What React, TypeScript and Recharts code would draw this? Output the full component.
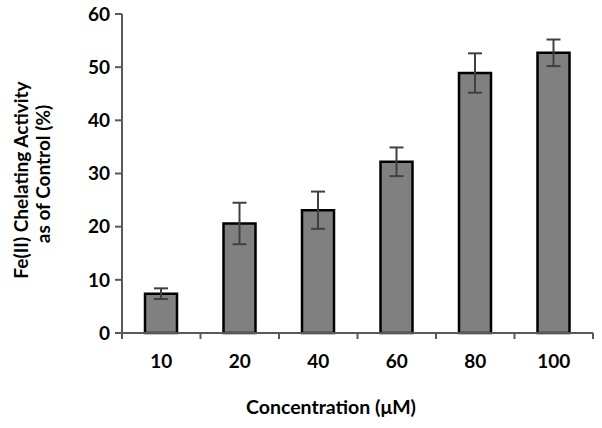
import { BarChart, Bar, XAxis, YAxis, ErrorBar } from 'recharts';

const concentrations = ['10', '20', '40', '60', '80', '100'];
const activity = [7.4, 20.6, 23.1, 32.2, 48.9, 52.7];
const errors = [1.0, 3.9, 3.5, 2.7, 3.7, 2.5];
const yTicks = [0, 10, 20, 30, 40, 50, 60];

const data = concentrations.map((c, i) => ({ conc: c, value: activity[i], err: errors[i] }));

const WIDTH = 602;
const HEIGHT = 428;
const MARGIN = { top: 14, right: 9, bottom: 35, left: 62 };
const Y_AXIS_W = 60;
const AXIS_COLOR = '#595959';
const FONT = 'Lato, "Open Sans", sans-serif';

const halfBand = (WIDTH - MARGIN.left - MARGIN.right - Y_AXIS_W) / concentrations.length / 2;

function XTick(props: any) {
  const { x, y, payload, index } = props;
  const last = index === concentrations.length - 1;
  return (
    <g>
      <line x1={x - halfBand} x2={x - halfBand} y1={y} y2={y + 6} stroke={AXIS_COLOR} strokeWidth={2} />
      {last && <line x1={x + halfBand} x2={x + halfBand} y1={y} y2={y + 6} stroke={AXIS_COLOR} strokeWidth={2} />}
      <text x={x} y={y + 35} textAnchor="middle" fontFamily={FONT} fontWeight="bold" fontSize={19} fill="#000">
        {payload.value}
      </text>
    </g>
  );
}

function XTitle() {
  return (
    <text x={331} y={414} textAnchor="middle" fontFamily={FONT} fontWeight="bold" fontSize={19.5} fill="#000">
      Concentration (μM)
    </text>
  );
}

function YTitle() {
  return (
    <g fontFamily={FONT} fontWeight="bold" fontSize={19} fill="#000">
      <text transform="translate(28,180) rotate(-90)" textAnchor="middle">Fe(II) Chelating Activity</text>
      <text transform="translate(50,174) rotate(-90)" textAnchor="middle">as of Control (%)</text>
    </g>
  );
}

export default function App() {
  return (
    <div style={{ position: 'absolute', left: 0, top: 0, width: WIDTH, height: HEIGHT, background: '#fff' }}>
      <BarChart width={WIDTH} height={HEIGHT} data={data} margin={MARGIN} barSize={32}>
        <XAxis
          dataKey="conc"
          height={60}
          stroke={AXIS_COLOR}
          strokeWidth={2}
          tickLine={false}
          tickSize={0}
          tickMargin={0}
          tick={<XTick />}
          interval={0}
          label={<XTitle />}
        />
        <YAxis
          width={Y_AXIS_W}
          domain={[0, 60]}
          ticks={yTicks}
          interval={0}
          stroke={AXIS_COLOR}
          strokeWidth={2}
          tickSize={7}
          tickMargin={5}
          tick={{ fontFamily: FONT, fontWeight: 'bold', fontSize: 19, fill: '#000' }}
          label={<YTitle />}
        />
        <Bar dataKey="value" fill="#808080" stroke="#000" strokeWidth={2.5} isAnimationActive={false}>
          <ErrorBar dataKey="err" width={7} stroke="#404040" strokeWidth={2} />
        </Bar>
      </BarChart>
    </div>
  );
}
